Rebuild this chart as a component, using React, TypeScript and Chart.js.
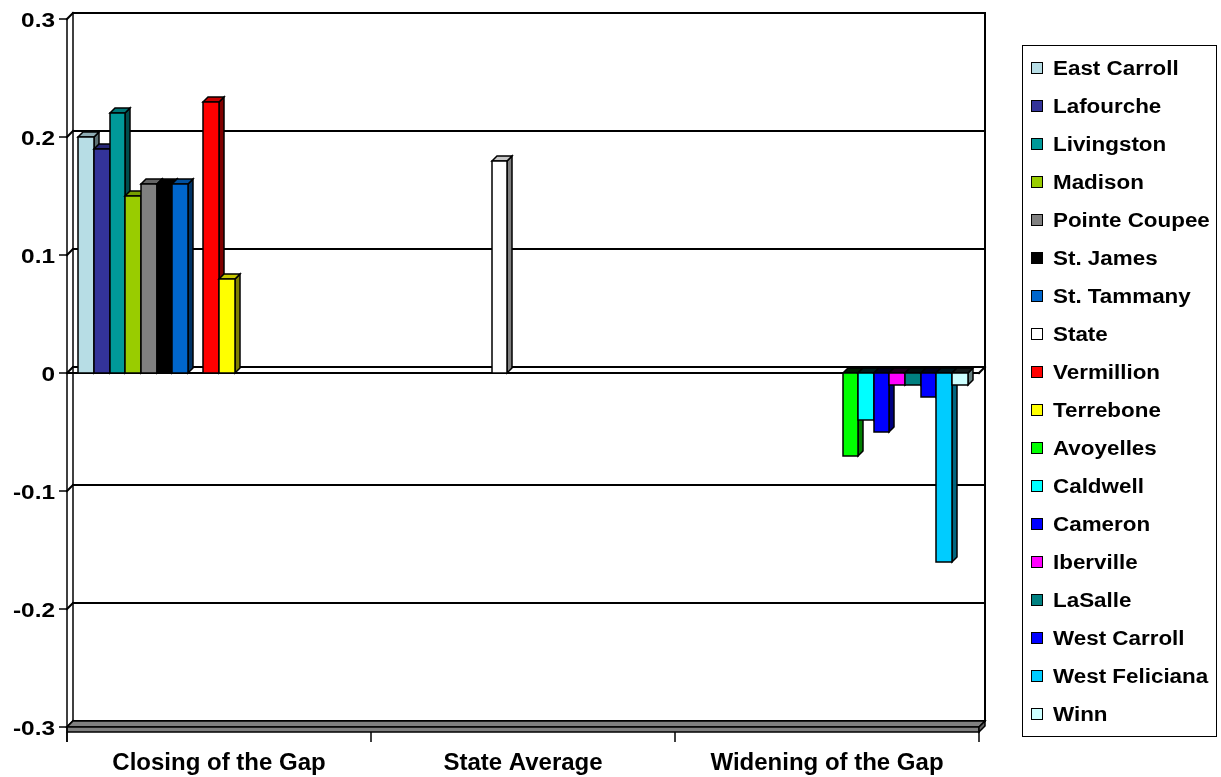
import { useEffect, useRef } from 'react';
import { Chart, registerables } from 'chart.js';

Chart.register(...registerables);

const categories = ['Closing of the Gap', 'State Average', 'Widening of the Gap'];

const parishes = [
  'East Carroll', 'Lafourche', 'Livingston', 'Madison', 'Pointe Coupee', 'St. James',
  'St. Tammany', 'State', 'Vermillion', 'Terrebone', 'Avoyelles', 'Caldwell',
  'Cameron', 'Iberville', 'LaSalle', 'West Carroll', 'West Feliciana', 'Winn',
];

const closingOfGap = [
  0.2, 0.19, 0.22, 0.15, 0.16, 0.16, 0.16, null, 0.23, 0.08,
  null, null, null, null, null, null, null, null,
];

const stateAverage = [
  null, null, null, null, null, null, null, 0.18, null, null,
  null, null, null, null, null, null, null, null,
];

const wideningOfGap = [
  null, null, null, null, null, null, null, null, null, null,
  -0.07, -0.04, -0.05, -0.01, -0.01, -0.02, -0.16, -0.01,
];

const parishColors = [
  '#B7DDE5', '#333399', '#009999', '#99CC00', '#808080', '#000000',
  '#0066CC', '#FFFFFF', '#FF0000', '#FFFF00', '#00FF00', '#00FFFF',
  '#0000FF', '#FF00FF', '#008080', '#0000FF', '#00CCFF', '#CCFFFF',
];

const yTickValues = [0.3, 0.2, 0.1, 0, -0.1, -0.2, -0.3];
const yTickLabels = ['0.3', '0.2', '0.1', '0', '-0.1', '-0.2', '-0.3'];

const FONT = '"Liberation Sans", Arial, Helvetica, sans-serif';
const WALL_DEPTH = 6;
const BAR_DEPTH = 5;
const FLOOR_THICKNESS = 5;

function shade(hex: string, f: number): string {
  const n = parseInt(hex.slice(1), 16);
  const r = Math.round(((n >> 16) & 255) * f);
  const g = Math.round(((n >> 8) & 255) * f);
  const b = Math.round((n & 255) * f);
  return `rgb(${r},${g},${b})`;
}

function poly(ctx: CanvasRenderingContext2D, pts: number[][], fill?: string) {
  ctx.beginPath();
  ctx.moveTo(pts[0][0], pts[0][1]);
  for (let i = 1; i < pts.length; i++) ctx.lineTo(pts[i][0], pts[i][1]);
  ctx.closePath();
  if (fill) {
    ctx.fillStyle = fill;
    ctx.fill();
  }
  ctx.stroke();
}

function line(ctx: CanvasRenderingContext2D, x1: number, y1: number, x2: number, y2: number) {
  ctx.beginPath();
  ctx.moveTo(x1, y1);
  ctx.lineTo(x2, y2);
  ctx.stroke();
}

function stretchedText(
  ctx: CanvasRenderingContext2D,
  text: string,
  x: number,
  y: number,
  sx: number,
  align: CanvasTextAlign,
) {
  ctx.save();
  ctx.translate(x, y);
  ctx.scale(sx, 1);
  ctx.textAlign = align;
  ctx.fillText(text, 0, 0);
  ctx.restore();
}

// Walls, floor slab and back-wall gridlines of the 3-D frame, then the bars
const framePlugin = {
  id: 'frame3d',
  beforeDatasetsDraw(chart: any) {
    const { ctx, chartArea: a, scales } = chart;
    const y = scales.y;
    const d = WALL_DEPTH;
    const L = Math.round(a.left);
    const R = Math.round(a.right);
    const T = Math.round(a.top);
    const B = Math.round(a.bottom);
    ctx.save();
    ctx.strokeStyle = '#000';
    ctx.lineWidth = 2;
    ctx.lineCap = 'square';

    // gridlines on the back wall plus their slant across the side wall
    yTickValues.forEach((v) => {
      const py = Math.round(y.getPixelForValue(v));
      line(ctx, L + d, py - d, R + d, py - d);
      line(ctx, L, py, L + d, py - d);
    });

    // wall edges
    ctx.lineWidth = 1.5;
    line(ctx, L, T, L, B);
    line(ctx, L + d, T - d, L + d, B - d);
    ctx.lineWidth = 2;
    line(ctx, R + d, T - d, R + d, B - d);

    // floor slab: top face and front face
    ctx.lineWidth = 1.5;
    ctx.lineJoin = 'miter';
    poly(ctx, [[L, B], [R, B], [R + d, B - d], [L + d, B - d]], '#808080');
    poly(ctx, [[L, B], [R, B], [R, B + FLOOR_THICKNESS], [L, B + FLOOR_THICKNESS]], '#808080');
    poly(
      ctx,
      [[R, B], [R + d, B - d], [R + d, B - d + FLOOR_THICKNESS], [R, B + FLOOR_THICKNESS]],
      '#606060',
    );

    // front edge of the zero plane
    const z = Math.round(y.getPixelForValue(0));
    ctx.lineWidth = 2;
    line(ctx, L, z, R, z);
    line(ctx, R, z, R + d, z - d);
    ctx.restore();
  },
  beforeDatasetDraw() {
    return false;
  },
  afterDatasetsDraw(chart: any) {
    const { ctx } = chart;
    const d = BAR_DEPTH;
    ctx.save();
    ctx.strokeStyle = '#000';
    ctx.lineWidth = 1.5;
    ctx.lineJoin = 'miter';
    chart.data.datasets.forEach((ds: any, i: number) => {
      const meta = chart.getDatasetMeta(i);
      meta.data.forEach((el: any, j: number) => {
        const v = ds.data[j];
        if (v === null || v === undefined) return;
        const { x, y, base, width } = el.getProps(['x', 'y', 'base', 'width'], true);
        const l = Math.round(x - width / 2);
        const r = Math.round(x + width / 2);
        const t = Math.round(Math.min(y, base));
        const b = Math.round(Math.max(y, base));
        const c = parishColors[i];
        // right side face
        poly(ctx, [[r, t], [r + d, t - d], [r + d, b - d], [r, b]], shade(c, 0.5));
        // top face (for hanging bars it lies on the zero plane, seen nearly edge-on)
        poly(
          ctx,
          [[l, t], [r, t], [r + d, t - d], [l + d, t - d]],
          v < 0 ? shade(c, 0.1) : shade(c, 0.78),
        );
        // front face
        poly(ctx, [[l, t], [r, t], [r, b], [l, b]], c);
      });
    });
    ctx.restore();
  },
  afterDraw(chart: any) {
    const { ctx, chartArea: a, scales } = chart;
    const y = scales.y;
    const x = scales.x;
    const L = Math.round(a.left);
    const B = Math.round(a.bottom) + FLOOR_THICKNESS;
    ctx.save();
    ctx.strokeStyle = '#000';
    ctx.fillStyle = '#000';
    ctx.lineWidth = 1.5;

    // value axis ticks and labels
    ctx.font = `bold 20px ${FONT}`;
    ctx.textBaseline = 'middle';
    yTickValues.forEach((v, k) => {
      const py = Math.round(y.getPixelForValue(v));
      line(ctx, L - 8, py, L, py);
      stretchedText(ctx, yTickLabels[k], a.left - 12, py + 2, 1.22, 'right');
    });
    line(ctx, L, Math.round(a.bottom), L, B + 10);

    // category axis ticks and labels
    const span = (a.right - a.left) / categories.length;
    for (let k = 0; k <= categories.length; k++) {
      const px = Math.round(a.left + k * span);
      line(ctx, px, B, px, B + 10);
    }
    ctx.font = `bold 24px ${FONT}`;
    ctx.textAlign = 'center';
    categories.forEach((c, k) => {
      ctx.fillText(c, x.getPixelForValue(k), a.bottom + 36);
    });

    // legend
    ctx.lineWidth = 1;
    const boxL = 1022.5;
    const boxT = 45.5;
    const boxR = 1216.5;
    const boxB = 736.5;
    ctx.strokeRect(boxL, boxT, boxR - boxL, boxB - boxT);
    ctx.font = `bold 20px ${FONT}`;
    ctx.textBaseline = 'middle';
    chart.data.datasets.forEach((ds: any, i: number) => {
      const cy = 68 + i * 38;
      ctx.fillStyle = ds.backgroundColor;
      ctx.fillRect(1031, cy - 6, 12, 12);
      ctx.strokeRect(1031.5, cy - 5.5, 11, 11);
      ctx.fillStyle = '#000';
      stretchedText(ctx, ds.label, 1053, cy + 1, 1.12, 'left');
    });
    ctx.restore();
  },
};

export default function App() {
  const canvasRef = useRef<HTMLCanvasElement | null>(null);

  useEffect(() => {
    const canvas = canvasRef.current;
    if (!canvas) return;
    const chart = new Chart(canvas, {
      type: 'bar',
      data: {
        labels: categories,
        datasets: parishes.map((name, i) => ({
          label: name,
          data: [closingOfGap[i], stateAverage[i], wideningOfGap[i]],
          backgroundColor: parishColors[i],
          borderColor: '#000',
          borderWidth: 1,
          categoryPercentage: 0.925,
          barPercentage: 1.0,
        })),
      },
      options: {
        responsive: false,
        animation: false,
        devicePixelRatio: 1,
        layout: { padding: { left: 67, right: 242, top: 19, bottom: 50 } },
        plugins: {
          legend: { display: false },
          tooltip: { enabled: false },
        },
        scales: {
          x: { display: false },
          y: { display: false, min: -0.3, max: 0.3 },
        },
      },
      plugins: [framePlugin],
    });
    return () => chart.destroy();
  }, []);

  return (
    <div style={{ position: 'fixed', left: 0, top: 0, width: 1221, height: 777, background: '#fff' }}>
      <canvas ref={canvasRef} width={1221} height={777} style={{ display: 'block' }} />
    </div>
  );
}
